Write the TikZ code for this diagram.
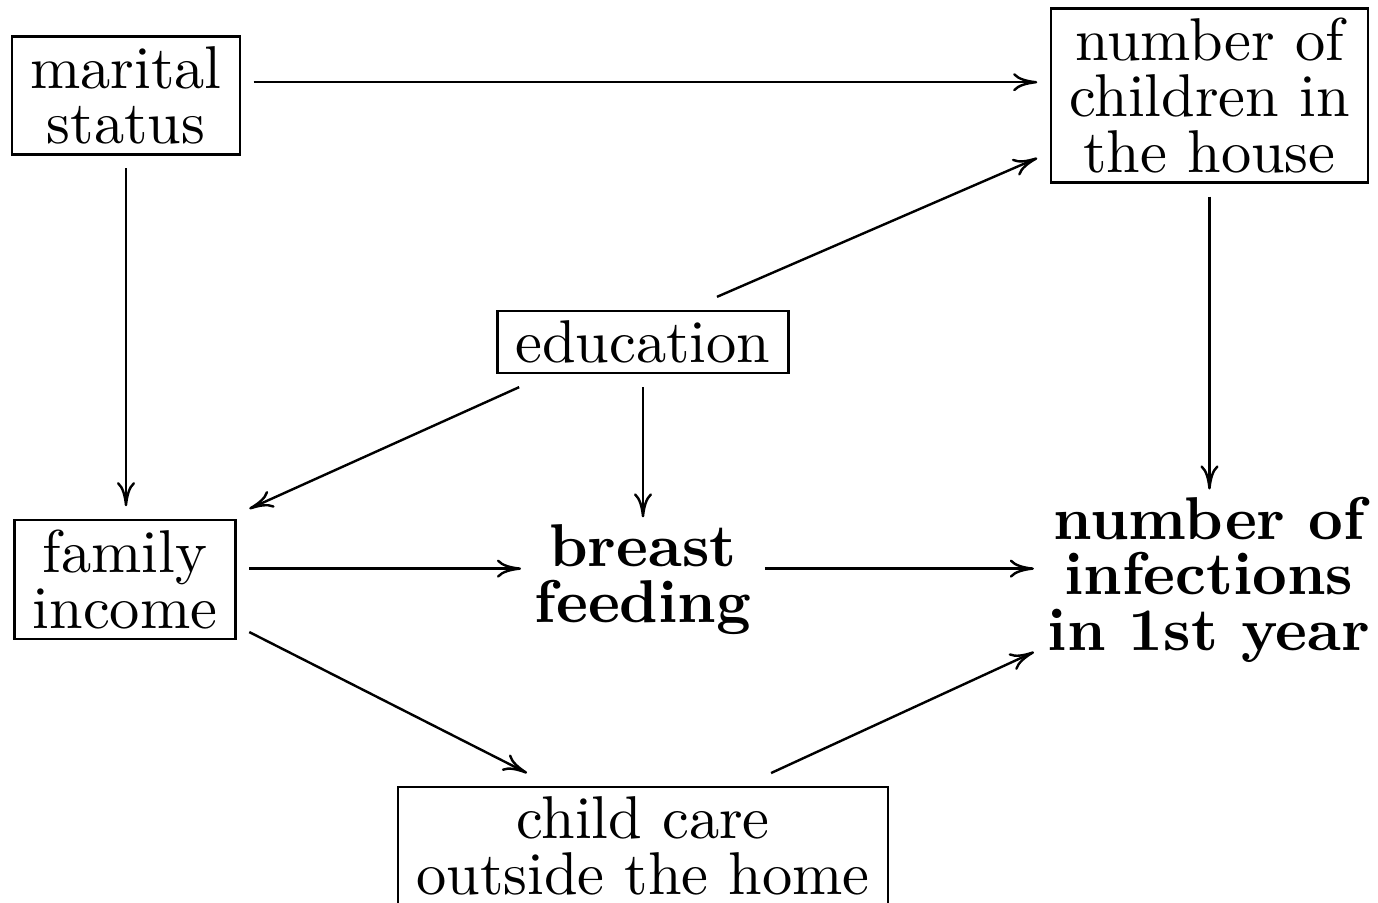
\documentclass[tikz,border=0pt]{standalone}
\usetikzlibrary{arrows.meta}
\begin{document}
\begin{tikzpicture}[x=0.16556pt,y=-0.16556pt,
  every node/.style={font=\fontsize{10pt}{9.2pt}\selectfont, align=center, outer sep=2.3pt},
  framed/.style={draw, line width=0.4pt, inner xsep=3pt, inner ysep=1.65pt},
  plain/.style={inner sep=0pt, font=\fontsize{10pt}{9.2pt}\selectfont\bfseries},
  arr/.style={-{Computer Modern Rightarrow[length=4pt,width=3pt]}, line width=0.4pt}]
\useasboundingbox (0,0) rectangle (1378,903);

% variables
\node[framed] (marital)  at (126,95.5)    {marital\\status};
\node[framed] (children) at (1209.5,95.5) {number of\\children in\\the house};
\node[framed] (edu)      at (643,342)     {education};
\node[framed] (income)   at (125,579.5)   {family\\income};
\node[plain]  (breast)   at (643,579.5)   {breast\\feeding};
\node[plain]  (infect)   at (1209,579.5)  {number of\\infections\\in 1st year};
\node[framed] (care)     at (643,846)     {child care\\outside the home};

% causal links
\draw[arr] ([yshift=2.2pt]marital.east) -- ([yshift=2.2pt]children.west);
\draw[arr] (marital.south) -- (marital.south |- income.north);
\draw[arr] ([xshift=12.25pt]edu.north) -- ([yshift=-10.35pt]children.west);
\draw[arr, shorten >=-1.1pt] (children.south) -- (children.south |- infect.north);
\draw[arr] ([xshift=-20.5pt]edu.south) -- ([yshift=11.7pt]income.east);
\draw[arr, shorten >=-1.1pt] (edu.south) -- (edu.south |- breast.north);
\draw[arr] ([yshift=1.8pt]income.east) -- ([yshift=1.8pt]breast.west);
\draw[arr] ([yshift=1.8pt]breast.east) -- ([yshift=1.8pt]infect.west);
\draw[arr] ([yshift=-8.7pt]income.east) -- ([xshift=-19.2pt]care.north);
\draw[arr] ([xshift=21.2pt]care.north) -- ([yshift=-12pt]infect.west);
\end{tikzpicture}
\end{document}
